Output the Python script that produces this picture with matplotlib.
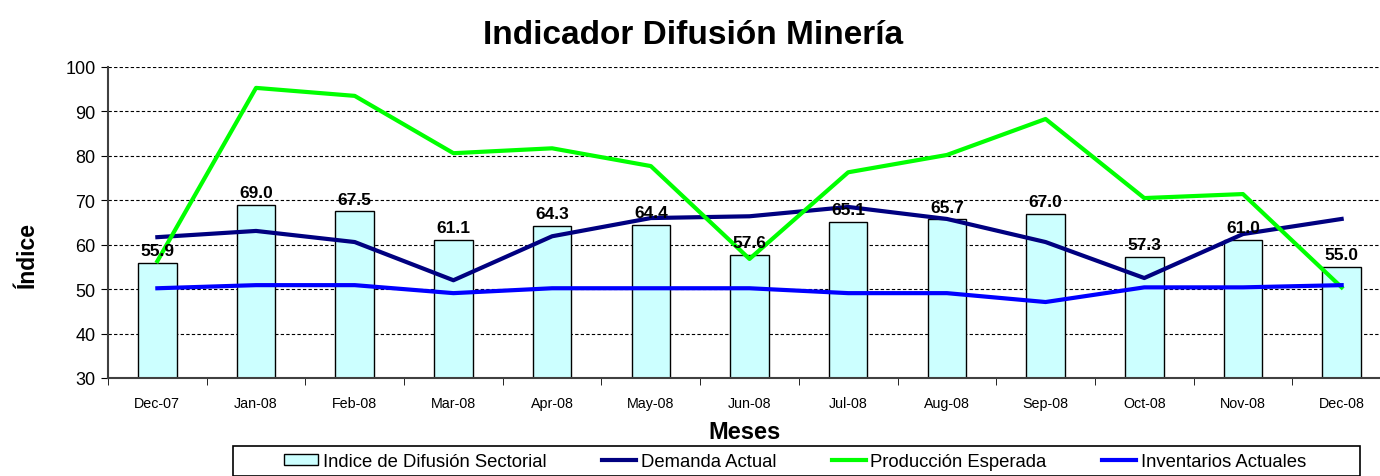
import matplotlib.pyplot as plt
from matplotlib.patches import Patch, Rectangle
from matplotlib.lines import Line2D

plt.rcParams['font.family'] = ['Liberation Sans', 'DejaVu Sans']

meses = ['Dec-07', 'Jan-08', 'Feb-08', 'Mar-08', 'Apr-08', 'May-08', 'Jun-08',
         'Jul-08', 'Aug-08', 'Sep-08', 'Oct-08', 'Nov-08', 'Dec-08']
indice = [55.9, 69.0, 67.5, 61.1, 64.3, 64.4, 57.6, 65.1, 65.7, 67.0, 57.3, 61.0, 55.0]
demanda = [61.7, 63.1, 60.6, 52.0, 61.9, 66.0, 66.4, 68.5, 65.8, 60.6, 52.5, 62.4, 65.8]
produccion = [56.3, 95.3, 93.5, 80.6, 81.7, 77.7, 56.8, 76.3, 80.2, 88.3, 70.5, 71.4, 50.4]
inventarios = [50.2, 50.9, 50.9, 49.1, 50.2, 50.2, 50.2, 49.1, 49.1, 47.1, 50.4, 50.4, 50.9]

x = list(range(len(meses)))

W, H = 1380, 477
fig = plt.figure(figsize=(13.8, 4.77), dpi=100)
ax = fig.add_axes([108/W, 1 - 379/H, 1283/W, 311/H])

ax.bar(x, indice, width=0.39, color='#CCFFFF', edgecolor='black', linewidth=1, zorder=2)
ax.plot(x, demanda, color='#000080', lw=3, zorder=3)
ax.plot(x, produccion, color='#00FF00', lw=3, zorder=3)
ax.plot(x, inventarios, color='#0000FF', lw=3, zorder=3)

for xi, v in zip(x, indice):
    ax.text(xi, v + 1.1, f'{v:.1f}', ha='center', va='bottom', fontsize=12.5,
            fontweight='bold', zorder=4)

ax.set_ylim(30, 100)
ax.set_xlim(-0.5, 12.5)
ax.set_yticks(range(30, 101, 10))
ax.tick_params(axis='y', labelsize=13, length=5, direction='out', pad=4)
ax.set_xticks(x)
ax.set_xticklabels(meses, fontsize=10.3)
ax.tick_params(axis='x', which='major', length=0, pad=13)
ax.set_xticks([i - 0.5 for i in range(len(meses) + 1)], minor=True)
ax.tick_params(axis='x', which='minor', length=5, direction='out')
ax.grid(axis='y', color='black', linestyle=(0, (3, 2)), linewidth=0.8, zorder=0)
ax.set_axisbelow(True)
for s in ['top', 'right']:
    ax.spines[s].set_visible(False)
for s in ['left', 'bottom']:
    ax.spines[s].set_color('#404040')
    ax.spines[s].set_linewidth(1.5)

fig.text(27/W, 1 - 255/H, 'Índice', rotation=90, ha='center', va='center',
         fontsize=16.5, fontweight='bold')
fig.text(745/W, 1 - 439/H, 'Meses', ha='center', va='baseline',
         fontsize=17, fontweight='bold')
fig.text(693/W, 1 - 44/H, 'Indicador Difusión Minería', ha='center', va='baseline',
         fontsize=24, fontweight='bold')

# legend frame (Excel style box, cut by the figure bottom)
fig.patches.append(Rectangle((233/W, 0), (1360 - 233)/W, 1 - 447/H, transform=fig.transFigure,
                             facecolor='none', edgecolor='black', linewidth=1.2))

handles = [Patch(facecolor='#CCFFFF', edgecolor='black'),
           Line2D([], [], color='#000080', lw=3),
           Line2D([], [], color='#00FF00', lw=3),
           Line2D([], [], color='#0000FF', lw=3)]
labels = ['Indice de Difusión Sectorial', 'Demanda Actual', 'Producción Esperada',
          'Inventarios Actuales']
fig.legend(handles, labels, loc='upper left', bbox_to_anchor=(284/W, 1 - 454/H),
           ncol=4, fontsize=13.3, frameon=False, handlelength=1.85, handleheight=0.5,
           handletextpad=0.25, columnspacing=3.0, borderpad=0, borderaxespad=0)

fig.savefig('out.png', dpi=100)
